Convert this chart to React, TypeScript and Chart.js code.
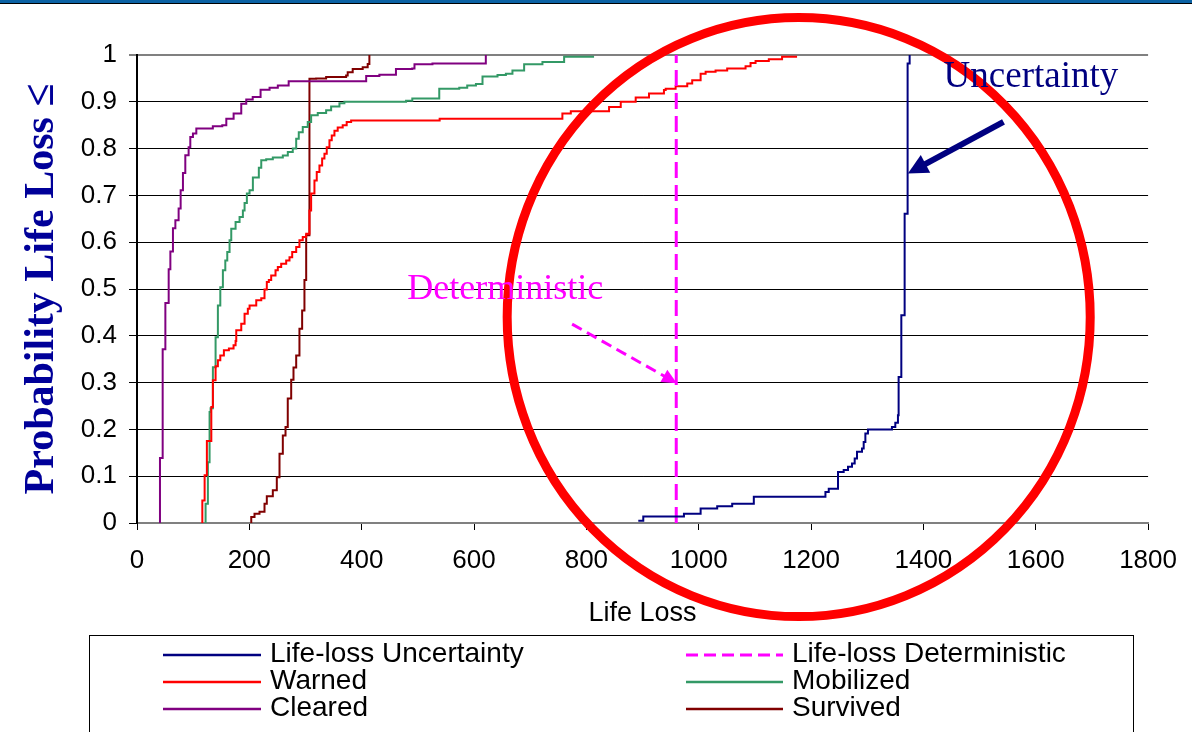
import React, { useEffect, useRef } from "react";
import { Chart, registerables } from "chart.js";

Chart.register(...registerables);

// ---------- axis ticks ----------
const xTicks = [0, 200, 400, 600, 800, 1000, 1200, 1400, 1600, 1800];
const yTicks = [0, 0.1, 0.2, 0.3, 0.4, 0.5, 0.6, 0.7, 0.8, 0.9, 1];
const yTickLabels = ["0", "0.1", "0.2", "0.3", "0.4", "0.5", "0.6", "0.7", "0.8", "0.9", "1"];

// ---------- series (life loss, cumulative probability) ----------
const uncertaintyX = [892.4, 901.3, 973.7, 1003.4, 1032.9, 1059.6, 1098.1, 1225.6, 1231.5, 1248, 1258.1, 1265.8, 1272.9, 1277.7, 1281.8, 1290.7, 1293.7, 1296.7, 1301.3, 1344, 1350, 1354.7, 1355.9, 1360.7, 1366.6, 1371.9, 1375.5];
const uncertaintyP = [0.005, 0.014, 0.02, 0.031, 0.036, 0.041, 0.056, 0.066, 0.073, 0.109, 0.113, 0.12, 0.127, 0.138, 0.152, 0.159, 0.173, 0.191, 0.2, 0.205, 0.214, 0.23, 0.312, 0.444, 0.661, 0.982, 1.0];

const deterministicX = [960, 960];
const deterministicP = [0, 1];

const warnedX = [116.3, 116.3, 120.4, 124.4, 132.3, 135.1, 139.9, 144, 148.3, 154.7, 163.6, 171.9, 175.5, 176.7, 185.6, 191.5, 197.3, 200.4, 212.3, 221.2, 227, 231.1, 234.7, 238.9, 246.6, 250.7, 256.7, 265.6, 271.5, 276.3, 283.4, 289.2, 295.1, 301.2, 307, 310, 315.9, 320, 324.8, 329.6, 333.7, 337.8, 342.6, 346.7, 351.5, 357.3, 366.2, 373.3, 381.2, 538.8, 757.3, 772.3, 840.4, 861.2, 887.8, 911.5, 938.1, 941.2, 958.9, 979.6, 988.4, 1003.4, 1012.3, 1030, 1050.7, 1083.4, 1092.3, 1101.2, 1124.8, 1148.4, 1175.1];
const warnedP = [0, 0.048, 0.102, 0.175, 0.248, 0.305, 0.335, 0.348, 0.358, 0.369, 0.373, 0.38, 0.389, 0.412, 0.426, 0.447, 0.458, 0.465, 0.476, 0.48, 0.499, 0.515, 0.519, 0.529, 0.54, 0.547, 0.554, 0.561, 0.568, 0.579, 0.59, 0.604, 0.611, 0.618, 0.668, 0.704, 0.732, 0.75, 0.764, 0.779, 0.789, 0.803, 0.818, 0.828, 0.838, 0.845, 0.85, 0.857, 0.86, 0.864, 0.875, 0.88, 0.889, 0.9, 0.909, 0.918, 0.925, 0.928, 0.933, 0.939, 0.946, 0.96, 0.964, 0.967, 0.971, 0.976, 0.983, 0.987, 0.991, 0.996, 0.996];

const mobilizedX = [122.1, 122.1, 126.2, 129.2, 131, 135.1, 139.9, 144, 148.3, 152.9, 157.2, 160.7, 164.8, 167.8, 175.5, 182.6, 188.5, 191.5, 195.6, 200.4, 206.3, 216.9, 221.2, 230, 241.8, 259.6, 268.5, 277.3, 283.4, 288, 295.1, 304, 310, 321.8, 336.7, 345.6, 360.4, 369.2, 479, 490.1, 538.1, 573.7, 587.9, 603.4, 615.1, 641.8, 656.7, 668.4, 689.2, 721.8, 760.4, 813.7];
const mobilizedP = [0, 0.041, 0.13, 0.237, 0.245, 0.333, 0.397, 0.465, 0.504, 0.54, 0.561, 0.579, 0.604, 0.629, 0.643, 0.654, 0.668, 0.684, 0.704, 0.711, 0.738, 0.759, 0.775, 0.777, 0.781, 0.785, 0.793, 0.8, 0.821, 0.835, 0.846, 0.857, 0.871, 0.876, 0.882, 0.89, 0.897, 0.9, 0.902, 0.907, 0.928, 0.93, 0.935, 0.938, 0.954, 0.957, 0.96, 0.967, 0.98, 0.985, 0.996, 0.996];

const clearedX = [40.9, 40.9, 45.7, 50.5, 56.4, 59.4, 64, 68.3, 74.1, 77.7, 81.8, 86, 91.9, 94.9, 99.6, 105.6, 135, 151.8, 159, 172, 185.6, 194.5, 206, 220, 236, 250.7, 270, 384, 408, 431.5, 461, 490, 494, 526, 612, 621];
const clearedP = [0, 0.139, 0.371, 0.47, 0.542, 0.58, 0.63, 0.647, 0.672, 0.711, 0.748, 0.786, 0.803, 0.825, 0.832, 0.843, 0.848, 0.85, 0.864, 0.875, 0.896, 0.905, 0.91, 0.926, 0.93, 0.935, 0.944, 0.944, 0.955, 0.958, 0.97, 0.971, 0.98, 0.982, 0.982, 1.0];

const survivedX = [203.4, 203.4, 209.2, 218.1, 227, 231.1, 241.8, 248.9, 253.7, 259.6, 264.4, 268.4, 274.5, 278.6, 283.4, 289.2, 294, 298.1, 301.2, 307, 318.9, 336.7, 372.3, 375.1, 384, 401.8, 410.7, 413.7];
const survivedP = [0, 0.013, 0.02, 0.024, 0.041, 0.057, 0.07, 0.098, 0.148, 0.187, 0.205, 0.266, 0.306, 0.332, 0.358, 0.415, 0.454, 0.519, 0.615, 0.949, 0.95, 0.953, 0.956, 0.963, 0.97, 0.974, 0.981, 1.0];

// ---------- annotations (data coordinates) ----------
const uncertaintyNote = { text: "Uncertainty", x: 1436, y: 0.931 };
const deterministicNote = { text: "Deterministic", x: 481, y: 0.478 };
const uncertaintyArrow = { fromX: 1542.6, fromY: 0.857, toX: 1372.4, toY: 0.747 };
const deterministicArrow = { fromX: 774.6, fromY: 0.425, toX: 961.2, toY: 0.2985 };
const highlight = { x: 1178, y: 0.44, rx: 519, ry: 0.64 };

const SANS = '"Liberation Sans", Arial, sans-serif';
const SERIF = '"Liberation Serif", "Times New Roman", serif';

const toPoints = (xs: number[], ps: number[]) => xs.map((x, i) => ({ x, y: ps[i] }));

function drawArrow(
  ctx: CanvasRenderingContext2D,
  x1: number, y1: number, x2: number, y2: number,
  color: string, width: number, dash: number[], headLen: number, headW: number
) {
  const dx = x2 - x1, dy = y2 - y1;
  const len = Math.hypot(dx, dy);
  const ux = dx / len, uy = dy / len;
  const nx = -uy, ny = ux;
  const bx = x2 - ux * headLen, by = y2 - uy * headLen;
  ctx.save();
  ctx.strokeStyle = color;
  ctx.fillStyle = color;
  ctx.lineWidth = width;
  ctx.setLineDash(dash);
  ctx.beginPath();
  ctx.moveTo(x1, y1);
  ctx.lineTo(bx + ux * 2, by + uy * 2);
  ctx.stroke();
  ctx.setLineDash([]);
  ctx.beginPath();
  ctx.moveTo(x2, y2);
  ctx.lineTo(bx + nx * headW, by + ny * headW);
  ctx.lineTo(bx - nx * headW, by - ny * headW);
  ctx.closePath();
  ctx.fill();
  ctx.restore();
}

const notesPlugin = {
  id: "notes",
  afterDraw(chart: any) {
    const { ctx } = chart;
    const xs = chart.scales.x;
    const ys = chart.scales.y;
    const px = (v: number) => xs.getPixelForValue(v);
    const py = (v: number) => ys.getPixelForValue(v);
    ctx.save();
    const cx = px(highlight.x), cy = py(highlight.y);
    const rx = Math.abs(px(highlight.x + highlight.rx) - cx);
    const ry = Math.abs(py(highlight.y + highlight.ry) - cy);
    ctx.beginPath();
    ctx.ellipse(cx, cy, rx, ry, 0, 0, Math.PI * 2);
    ctx.strokeStyle = "#FF0000";
    ctx.lineWidth = 9;
    ctx.stroke();
    drawArrow(ctx, px(uncertaintyArrow.fromX), py(uncertaintyArrow.fromY), px(uncertaintyArrow.toX), py(uncertaintyArrow.toY), "#000080", 6, [], 20, 10);
    drawArrow(ctx, px(deterministicArrow.fromX), py(deterministicArrow.fromY), px(deterministicArrow.toX), py(deterministicArrow.toY), "#FF00FF", 3, [11, 6], 15, 7);
    ctx.textBaseline = "alphabetic";
    ctx.textAlign = "left";
    ctx.font = `37px ${SERIF}`;
    ctx.fillStyle = "#000080";
    ctx.fillText(uncertaintyNote.text, px(uncertaintyNote.x), py(uncertaintyNote.y));
    ctx.font = `36px ${SERIF}`;
    ctx.fillStyle = "#FF00FF";
    ctx.fillText(deterministicNote.text, px(deterministicNote.x), py(deterministicNote.y));
    ctx.restore();
  },
};

const legendPlugin = {
  id: "boxLegend",
  afterDraw(chart: any) {
    const { ctx } = chart;
    const boxL = 89.5, boxT = 635.5, boxR = 1133.5;
    const colSample = [[163, 261], [686, 783]];
    const colText = [270, 792];
    const rowY = [655, 682, 709];
    ctx.save();
    ctx.strokeStyle = "#000";
    ctx.lineWidth = 1;
    ctx.strokeRect(boxL, boxT, boxR - boxL, 140);
    ctx.font = `28px ${SANS}`;
    ctx.textBaseline = "alphabetic";
    ctx.textAlign = "left";
    chart.data.datasets.forEach((ds: any, i: number) => {
      const col = i % 2;
      const row = Math.floor(i / 2);
      const y = rowY[row];
      ctx.save();
      ctx.strokeStyle = ds.borderColor;
      ctx.lineWidth = ds.borderDash && ds.borderDash.length ? 3 : 2.5;
      ctx.setLineDash(ds.borderDash && ds.borderDash.length ? [12, 6] : []);
      ctx.beginPath();
      ctx.moveTo(colSample[col][0], y);
      ctx.lineTo(colSample[col][1], y);
      ctx.stroke();
      ctx.restore();
      ctx.fillStyle = "#000";
      ctx.fillText(ds.label, colText[col], y + 7);
    });
    ctx.restore();
  },
};

export default function App() {
  const canvasRef = useRef<HTMLCanvasElement>(null);

  useEffect(() => {
    const canvas = canvasRef.current;
    if (!canvas) return;
    const line = (label: string, xs: number[], ps: number[], color: string, extra: any = {}) => ({
      label,
      data: toPoints(xs, ps),
      borderColor: color,
      backgroundColor: color,
      borderWidth: 2,
      pointRadius: 0,
      fill: false,
      stepped: true,
      ...extra,
    });
    const chart = new Chart(canvas, {
      type: "line",
      data: {
        datasets: [
          line("Life-loss Uncertainty", uncertaintyX, uncertaintyP, "#000080"),
          line("Life-loss Deterministic", deterministicX, deterministicP, "#FF00FF", { borderDash: [16, 7], borderWidth: 3, stepped: false }),
          line("Warned", warnedX, warnedP, "#FF0000"),
          line("Mobilized", mobilizedX, mobilizedP, "#339966"),
          line("Cleared", clearedX, clearedP, "#800080"),
          line("Survived", survivedX, survivedP, "#800000"),
        ] as any,
      },
      options: {
        responsive: false,
        devicePixelRatio: 1,
        animation: false,
        events: [],
        layout: { padding: { left: 0, top: 55, right: 42, bottom: 100 } },
        plugins: {
          legend: { display: false },
          tooltip: { enabled: false },
          title: { display: false },
        },
        scales: {
          x: {
            type: "linear",
            min: 0,
            max: 1800,
            afterBuildTicks: (s: any) => {
              s.ticks = xTicks.map((v) => ({ value: v }));
            },
            afterFit: (s: any) => {
              s.height = 109;
            },
            ticks: {
              color: "#000",
              font: { family: SANS, size: 26 },
              padding: 15,
              maxRotation: 0,
              autoSkip: false,
              callback: (v: any) => String(v),
            },
            grid: { drawOnChartArea: false, drawTicks: true, tickLength: 7, color: "#000", lineWidth: 1 },
            border: { display: true, color: "#808080", width: 2 },
            title: {
              display: true,
              text: "Life Loss",
              color: "#000",
              font: { family: SANS, size: 27 },
              padding: { top: 0, bottom: 2 },
            },
          },
          y: {
            type: "linear",
            min: 0,
            max: 1,
            afterBuildTicks: (s: any) => {
              s.ticks = yTicks.map((v) => ({ value: v }));
            },
            afterFit: (s: any) => {
              s.width = 137;
            },
            ticks: {
              color: "#000",
              font: { family: SANS, size: 26 },
              padding: 12,
              autoSkip: false,
              callback: (_v: any, i: number) => yTickLabels[i],
            },
            grid: {
              drawTicks: true,
              tickLength: 8,
              color: (c: any) => (c.tick && c.tick.value === 1 ? "#808080" : "#000"),
              lineWidth: (c: any) => (c.tick && c.tick.value === 1 ? 2 : 1),
            },
            border: { display: true, color: "#000", width: 2 },
            title: {
              display: true,
              text: "Probability Life Loss \u2264",
              color: "#000099",
              font: { family: SERIF, size: 42, weight: "bold" },
              padding: { top: 17, bottom: 0 },
            },
          },
        },
      } as any,
      plugins: [legendPlugin, notesPlugin],
    });
    return () => chart.destroy();
  }, []);

  return (
    <div style={{ position: "fixed", left: 0, top: 0, width: 1192, height: 732, background: "#fff", overflow: "hidden" }}>
      <canvas ref={canvasRef} width={1192} height={732} style={{ display: "block", width: 1192, height: 732 }} />
      <div
        style={{
          position: "absolute",
          left: 0,
          top: 0,
          width: 1192,
          height: 3,
          background: "#0B62A4",
          borderBottom: "1.5px solid #000",
        }}
      />
    </div>
  );
}
